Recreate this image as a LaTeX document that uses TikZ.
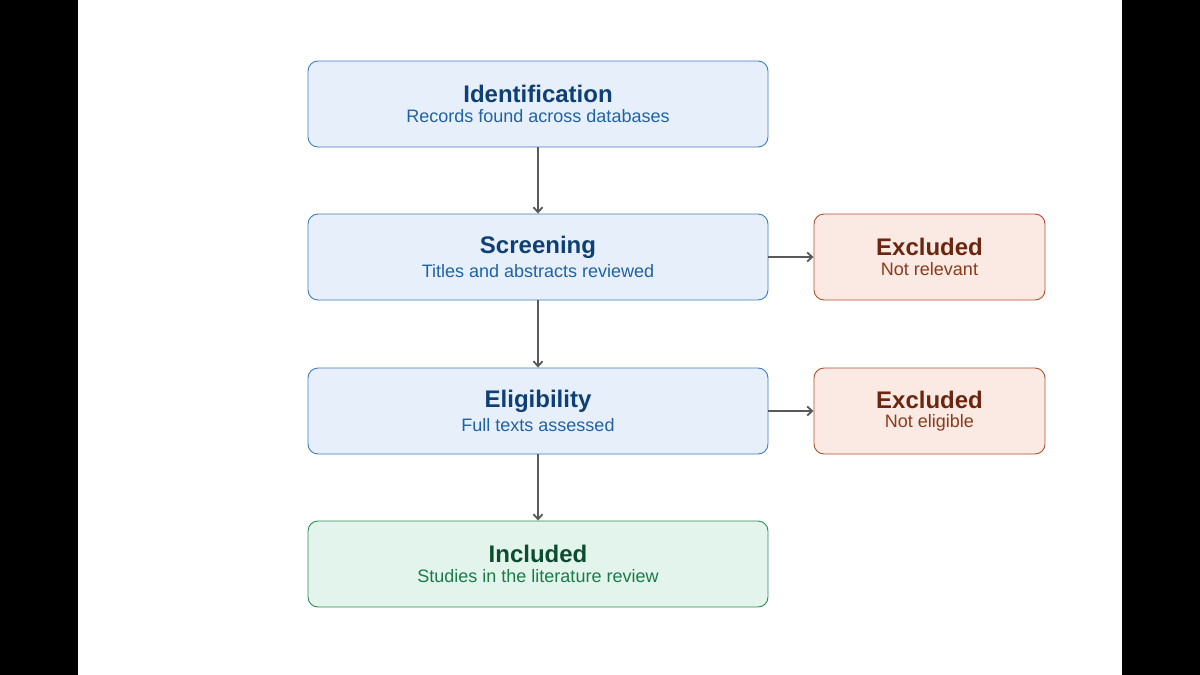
\documentclass[tikz,border=0pt]{standalone}
\usepackage{fontspec}
\setmainfont{Liberation Sans}
\usetikzlibrary{arrows.meta}
\definecolor{bfill}{HTML}{E7F0FA}\definecolor{bdraw}{HTML}{3D7CC0}
\definecolor{btit}{HTML}{0E3F75}\definecolor{bsub}{HTML}{1F62A6}
\definecolor{rfill}{HTML}{FBEAE4}\definecolor{rdraw}{HTML}{B0502F}
\definecolor{rtit}{HTML}{6B2610}\definecolor{rsub}{HTML}{8A3A1A}
\definecolor{gfill}{HTML}{E2F4EC}\definecolor{gdraw}{HTML}{2E8B57}
\definecolor{gtit}{HTML}{0B4D2E}\definecolor{gsub}{HTML}{1C7A48}
\begin{document}
\begin{tikzpicture}[x=1pt,y=-1pt,
 box/.style={rounded corners=10pt,line width=0.9pt,minimum height=86pt,align=center,inner sep=0pt},
 blue/.style={box,fill=bfill,draw=bdraw,minimum width=460pt},
 red/.style={box,fill=rfill,draw=rdraw,minimum width=231pt},
 green/.style={box,fill=gfill,draw=gdraw,minimum width=460pt},
 arr/.style={draw=black!65,line width=1.8pt,-{Straight Barb[length=5pt,width=9pt]}}]
\useasboundingbox (0,0) rectangle (1200,675);
\fill[black] (0,0) rectangle (78,675);
\fill[black] (1122,0) rectangle (1200,675);
\newcommand{\bt}[3]{{\fontsize{24}{28}\selectfont\bfseries\color{#1}#2}\\[7pt]{\fontsize{18}{20}\selectfont\color{#3}}}
\node[blue] (id) at (538,104) {{\fontsize{24}{28}\selectfont\bfseries\color{btit}Identification}\\[5pt]{\fontsize{18}{20}\selectfont\color{bsub}Records found across databases}};
\node[blue] (sc) at (538,257) {{\fontsize{24}{28}\selectfont\bfseries\color{btit}Screening}\\[5pt]{\fontsize{18}{20}\selectfont\color{bsub}Titles and abstracts reviewed}};
\node[blue] (el) at (538,411) {{\fontsize{24}{28}\selectfont\bfseries\color{btit}Eligibility}\\[5pt]{\fontsize{18}{20}\selectfont\color{bsub}Full texts assessed}};
\node[green] (in) at (538,564) {{\fontsize{24}{28}\selectfont\bfseries\color{gtit}Included}\\[5pt]{\fontsize{18}{20}\selectfont\color{gsub}Studies in the literature review}};
\node[red] (ex1) at (929.5,257) {{\fontsize{24}{28}\selectfont\bfseries\color{rtit}Excluded}\\[5pt]{\fontsize{18}{20}\selectfont\color{rsub}Not relevant}};
\node[red] (ex2) at (929.5,411) {{\fontsize{24}{28}\selectfont\bfseries\color{rtit}Excluded}\\[5pt]{\fontsize{18}{20}\selectfont\color{rsub}Not eligible}};
\draw[arr] (id) -- (sc);
\draw[arr] (sc) -- (el);
\draw[arr] (el) -- (in);
\draw[arr] (sc) -- (ex1);
\draw[arr] (el) -- (ex2);
\end{tikzpicture}
\end{document}
